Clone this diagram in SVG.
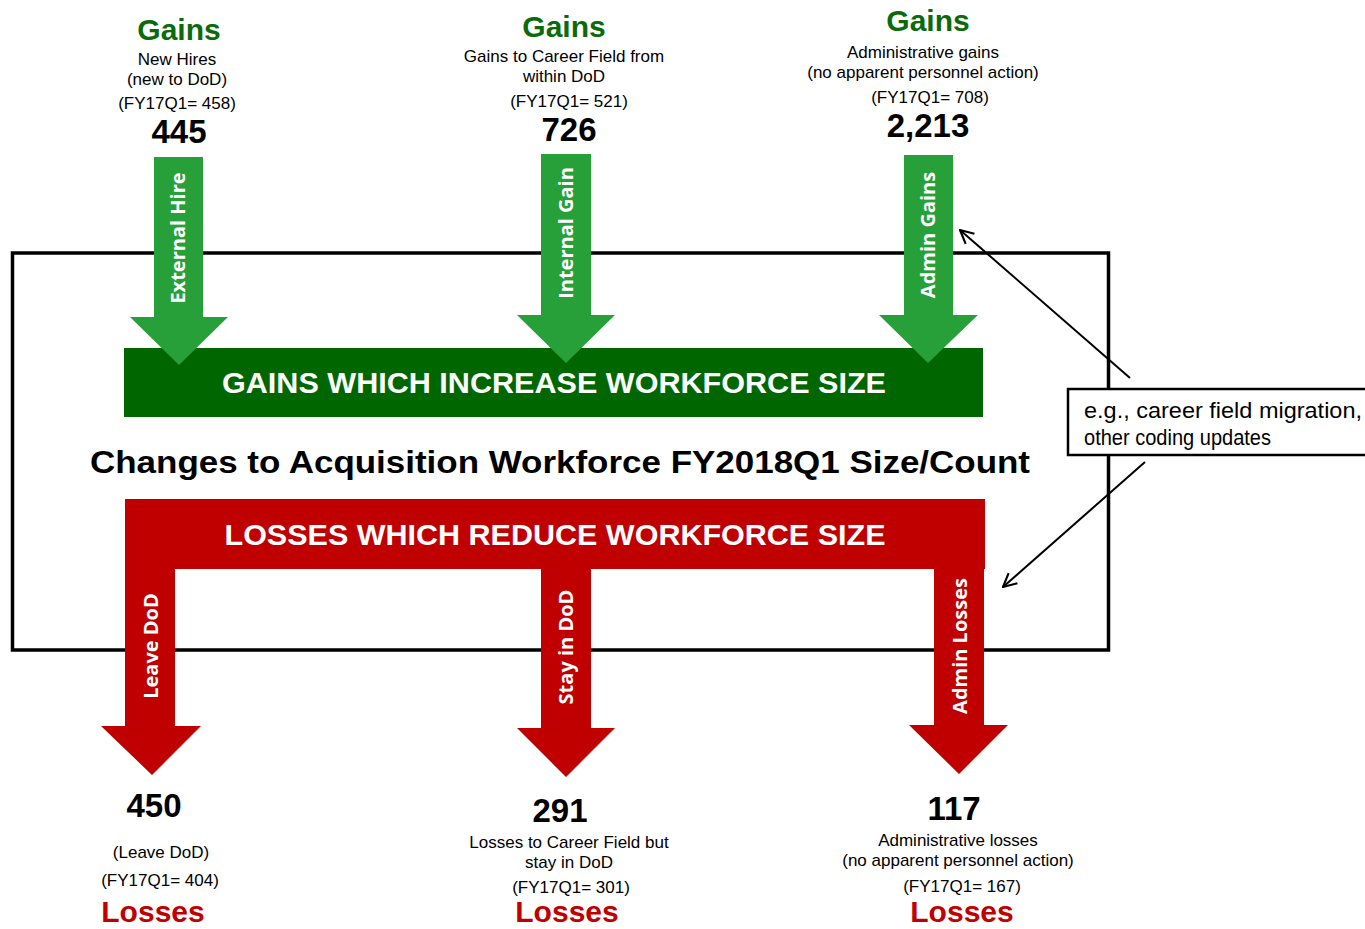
<svg xmlns="http://www.w3.org/2000/svg" width="1365" height="929" viewBox="0 0 1365 929">
<defs>
<style>
.t{font-family:"Liberation Sans",Arial,sans-serif;fill:#000;text-anchor:middle}
.s{font-size:17px}
.num{font-size:33px;font-weight:bold}
.gain{font-size:30px;font-weight:bold;fill:#0B6B0B}
.loss{font-size:30px;font-weight:bold;fill:#C00000}
.bar{font-family:"Liberation Sans",Arial,sans-serif;font-size:29px;font-weight:bold;fill:#fff;text-anchor:middle}
.lbl{font-family:"Open Sans",sans-serif;font-size:20px;font-weight:bold;fill:#fff;text-anchor:middle}
.ga{fill:#28A039}
.ra{fill:#C00000}
.conn{stroke:#000;stroke-width:2;fill:none}
</style>
<marker id="open" viewBox="0 0 12 12" refX="11" refY="6" markerWidth="16" markerHeight="16" markerUnits="userSpaceOnUse" orient="auto">
<path d="M1,1 L11,6 L1,11" fill="none" stroke="#000" stroke-width="1.6"/>
</marker>
</defs>
<rect width="1365" height="929" fill="#fff"/>

<g id="frame">
<rect x="12.5" y="253" width="1096" height="397" fill="none" stroke="#000" stroke-width="3.5"/>
</g>

<g id="gains-bar">
<rect x="124" y="348" width="859" height="69" fill="#006600"/>
<text class="bar" x="554" y="393" textLength="664" lengthAdjust="spacingAndGlyphs">GAINS WHICH INCREASE WORKFORCE SIZE</text>
</g>

<g id="external-hire">
<polygon class="ga" points="154,157 203,157 203,317 228,317 179,365 130,317 154,317"/>
<text class="lbl" transform="translate(185,238) rotate(-90)">External Hire</text>
</g>
<g id="internal-gain">
<polygon class="ga" points="541,154 591,154 591,315 615,315 566,363 517,315 541,315"/>
<text class="lbl" transform="translate(573,233) rotate(-90)">Internal Gain</text>
</g>
<g id="admin-gains">
<polygon class="ga" points="904,155 953,155 953,315 978,315 928,363 879,315 904,315"/>
<text class="lbl" transform="translate(935,235) rotate(-90)">Admin Gains</text>
</g>

<g id="title">
<text class="t" x="560" y="473" font-size="31" font-weight="bold" textLength="940" lengthAdjust="spacingAndGlyphs">Changes to Acquisition Workforce FY2018Q1 Size/Count</text>
</g>

<g id="losses-bar">
<rect x="125" y="499" width="860" height="70" fill="#C00000"/>
<text class="bar" x="555" y="545" textLength="661" lengthAdjust="spacingAndGlyphs">LOSSES WHICH REDUCE WORKFORCE SIZE</text>
</g>
<g id="leave-dod">
<polygon class="ra" points="125,568 175,568 175,726 201,726 152,775 101,726 125,726"/>
<text class="lbl" transform="translate(158,646) rotate(-90)">Leave DoD</text>
</g>
<g id="stay-in-dod">
<polygon class="ra" points="541,568 591,568 591,728 615,728 566,777 517,728 541,728"/>
<text class="lbl" transform="translate(573,647) rotate(-90)">Stay in DoD</text>
</g>
<g id="admin-losses">
<polygon class="ra" points="934,568 984,568 984,725 1008,725 959,774 909,725 934,725"/>
<text class="lbl" transform="translate(967,646) rotate(-90)">Admin Losses</text>
</g>

<g id="gains-new-hires">
<text class="t gain" x="179" y="40">Gains</text>
<text class="t s" x="177" y="65">New Hires</text>
<text class="t s" x="177" y="85">(new to DoD)</text>
<text class="t s" x="177" y="109">(FY17Q1= 458)</text>
<text class="t num" x="179" y="143">445</text>
</g>
<g id="gains-internal">
<text class="t gain" x="564" y="37">Gains</text>
<text class="t s" x="564" y="62">Gains to Career Field from</text>
<text class="t s" x="564" y="82">within DoD</text>
<text class="t s" x="569" y="107">(FY17Q1= 521)</text>
<text class="t num" x="569" y="141">726</text>
</g>
<g id="gains-admin">
<text class="t gain" x="928" y="31">Gains</text>
<text class="t s" x="923" y="58">Administrative gains</text>
<text class="t s" x="923" y="78">(no apparent personnel action)</text>
<text class="t s" x="930" y="103">(FY17Q1= 708)</text>
<text class="t num" x="928" y="137">2,213</text>
</g>

<g id="losses-leave">
<text class="t num" x="154" y="817">450</text>
<text class="t s" x="161" y="858">(Leave DoD)</text>
<text class="t s" x="160" y="886">(FY17Q1= 404)</text>
<text class="t loss" x="153" y="922">Losses</text>
</g>
<g id="losses-stay">
<text class="t num" x="560" y="822">291</text>
<text class="t s" x="569" y="848">Losses to Career Field but</text>
<text class="t s" x="569" y="868">stay in DoD</text>
<text class="t s" x="571" y="893">(FY17Q1= 301)</text>
<text class="t loss" x="567" y="922">Losses</text>
</g>
<g id="losses-admin">
<text class="t num" x="954" y="820">117</text>
<text class="t s" x="958" y="846">Administrative losses</text>
<text class="t s" x="958" y="866">(no apparent personnel action)</text>
<text class="t s" x="962" y="892">(FY17Q1= 167)</text>
<text class="t loss" x="962" y="922">Losses</text>
</g>

<g id="callout">
<rect x="1068" y="389" width="310" height="66" fill="#fff" stroke="#000" stroke-width="2.5"/>
<text class="t" x="1084" y="418" font-size="22" style="text-anchor:start" textLength="278" lengthAdjust="spacingAndGlyphs">e.g., career field migration,</text>
<text class="t" x="1084" y="445" font-size="22" style="text-anchor:start" textLength="187" lengthAdjust="spacingAndGlyphs">other coding updates</text>
</g>

<g id="connectors">
<line class="conn" x1="1130" y1="378" x2="960" y2="230" marker-end="url(#open)"/>
<line class="conn" x1="1145" y1="462" x2="1003" y2="587" marker-end="url(#open)"/>
</g>
</svg>
